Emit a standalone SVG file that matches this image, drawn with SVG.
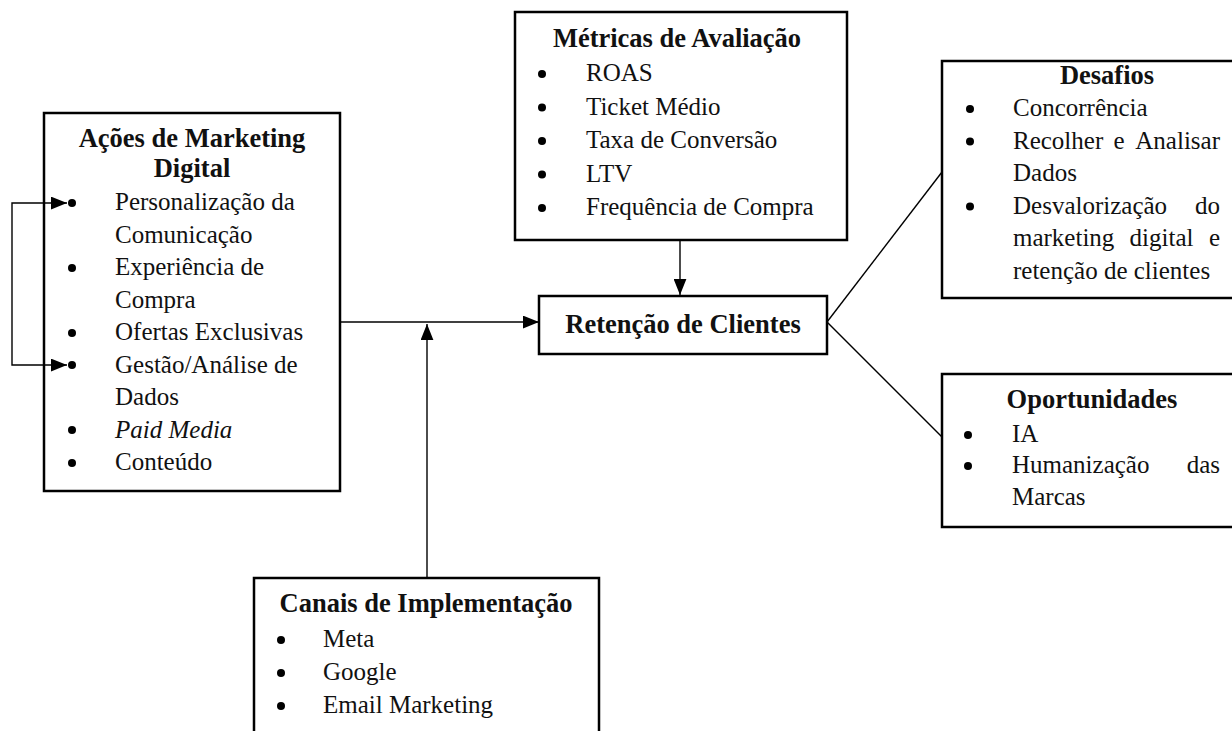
<svg xmlns="http://www.w3.org/2000/svg" width="1232" height="731" viewBox="0 0 1232 731">
<style>
.box{fill:#fff;stroke:#000;stroke-width:2.5}
.t{font-family:"Liberation Serif","Times New Roman",serif;font-size:25px;fill:#111}
.h{font-family:"Liberation Serif","Times New Roman",serif;font-size:26.5px;font-weight:bold;fill:#111;text-anchor:middle}
.e{text-anchor:end}
.m{text-anchor:middle}
.b{fill:#000}
.c{fill:none;stroke:#000;stroke-width:1.4}
</style>
<defs>
<marker id="arr" markerUnits="userSpaceOnUse" markerWidth="16" markerHeight="13" refX="15" refY="6" orient="auto-start-reverse" viewBox="0 0 15 12">
<path d="M0,0 L15,6 L0,12 z" fill="#000"/>
</marker>
</defs>
<rect width="1232" height="731" fill="#fff"/>
<g id="acoes">
<rect class="box" x="44" y="113" width="296" height="378"/>
<text class="h" x="192" y="147">Ações de Marketing</text>
<text class="h" x="192" y="177">Digital</text>
<circle class="b" cx="72" cy="203" r="4"/>
<text class="t" x="115" y="210">Personalização da</text>
<text class="t" x="115" y="242.5">Comunicação</text>
<circle class="b" cx="72" cy="268" r="4"/>
<text class="t" x="115" y="275">Experiência de</text>
<text class="t" x="115" y="307.5">Compra</text>
<circle class="b" cx="72" cy="333" r="4"/>
<text class="t" x="115" y="340">Ofertas Exclusivas</text>
<circle class="b" cx="72" cy="365" r="4"/>
<text class="t" x="115" y="372.5">Gestão/Análise de</text>
<text class="t" x="115" y="405">Dados</text>
<circle class="b" cx="72" cy="430" r="4"/>
<text class="t" x="115" y="437.5" font-style="italic">Paid Media</text>
<circle class="b" cx="72" cy="463" r="4"/>
<text class="t" x="115" y="470">Conteúdo</text>
</g>
<g id="metricas">
<rect class="box" x="515" y="12" width="332" height="228"/>
<text class="h" x="677" y="47">Métricas de Avaliação</text>
<circle class="b" cx="542" cy="74" r="4"/>
<text class="t" x="586" y="81">ROAS</text>
<circle class="b" cx="542" cy="107.5" r="4"/>
<text class="t" x="586" y="114.5">Ticket Médio</text>
<circle class="b" cx="542" cy="141" r="4"/>
<text class="t" x="586" y="148">Taxa de Conversão</text>
<circle class="b" cx="542" cy="174.5" r="4"/>
<text class="t" x="586" y="181.5">LTV</text>
<circle class="b" cx="542" cy="208" r="4"/>
<text class="t" x="586" y="215">Frequência de Compra</text>
</g>
<g id="retencao">
<rect class="box" x="539" y="296" width="288" height="58"/>
<text class="h" x="683" y="333">Retenção de Clientes</text>
</g>
<g id="desafios">
<rect class="box" x="942" y="61" width="340" height="237"/>
<text class="h" x="1107" y="84">Desafios</text>
<circle class="b" cx="970" cy="109" r="4"/>
<text class="t" x="1013" y="116">Concorrência</text>
<circle class="b" cx="970" cy="141.5" r="4"/>
<text class="t" x="1013" y="148.5">Recolher</text>
<text class="t m" x="1119" y="148.5">e</text>
<text class="t e" x="1220" y="148.5">Analisar</text>
<text class="t" x="1013" y="181">Dados</text>
<circle class="b" cx="970" cy="206.5" r="4"/>
<text class="t" x="1013" y="213.5">Desvalorização</text>
<text class="t e" x="1220" y="213.5">do</text>
<text class="t" x="1013" y="246">marketing</text>
<text class="t m" x="1161.5" y="246">digital</text>
<text class="t e" x="1220" y="246">e</text>
<text class="t" x="1013" y="278.5">retenção de clientes</text>
</g>
<g id="oportunidades">
<rect class="box" x="942" y="374" width="340" height="153"/>
<text class="h" x="1092" y="408">Oportunidades</text>
<circle class="b" cx="968" cy="435" r="4"/>
<text class="t" x="1012" y="442">IA</text>
<circle class="b" cx="968" cy="466" r="4"/>
<text class="t" x="1012" y="473">Humanização</text>
<text class="t e" x="1220" y="473">das</text>
<text class="t" x="1012" y="505">Marcas</text>
</g>
<g id="canais">
<rect class="box" x="254" y="578" width="345" height="200"/>
<text class="h" x="426" y="612">Canais de Implementação</text>
<circle class="b" cx="281" cy="640" r="4"/>
<text class="t" x="323" y="647">Meta</text>
<circle class="b" cx="281" cy="673" r="4"/>
<text class="t" x="323" y="680">Google</text>
<circle class="b" cx="281" cy="706" r="4"/>
<text class="t" x="323" y="713">Email Marketing</text>
</g>
<g id="connectors">
<path class="c" d="M67,203 H12 V365 H67" marker-start="url(#arr)" marker-end="url(#arr)"/>
<path class="c" d="M341,322 H539" marker-end="url(#arr)"/>
<path class="c" d="M680,241 V295" marker-end="url(#arr)"/>
<path class="c" d="M427,577 V324" marker-end="url(#arr)"/>
<path class="c" d="M827,322 L942,172"/>
<path class="c" d="M827,322 L942,437"/>
</g>
</svg>
